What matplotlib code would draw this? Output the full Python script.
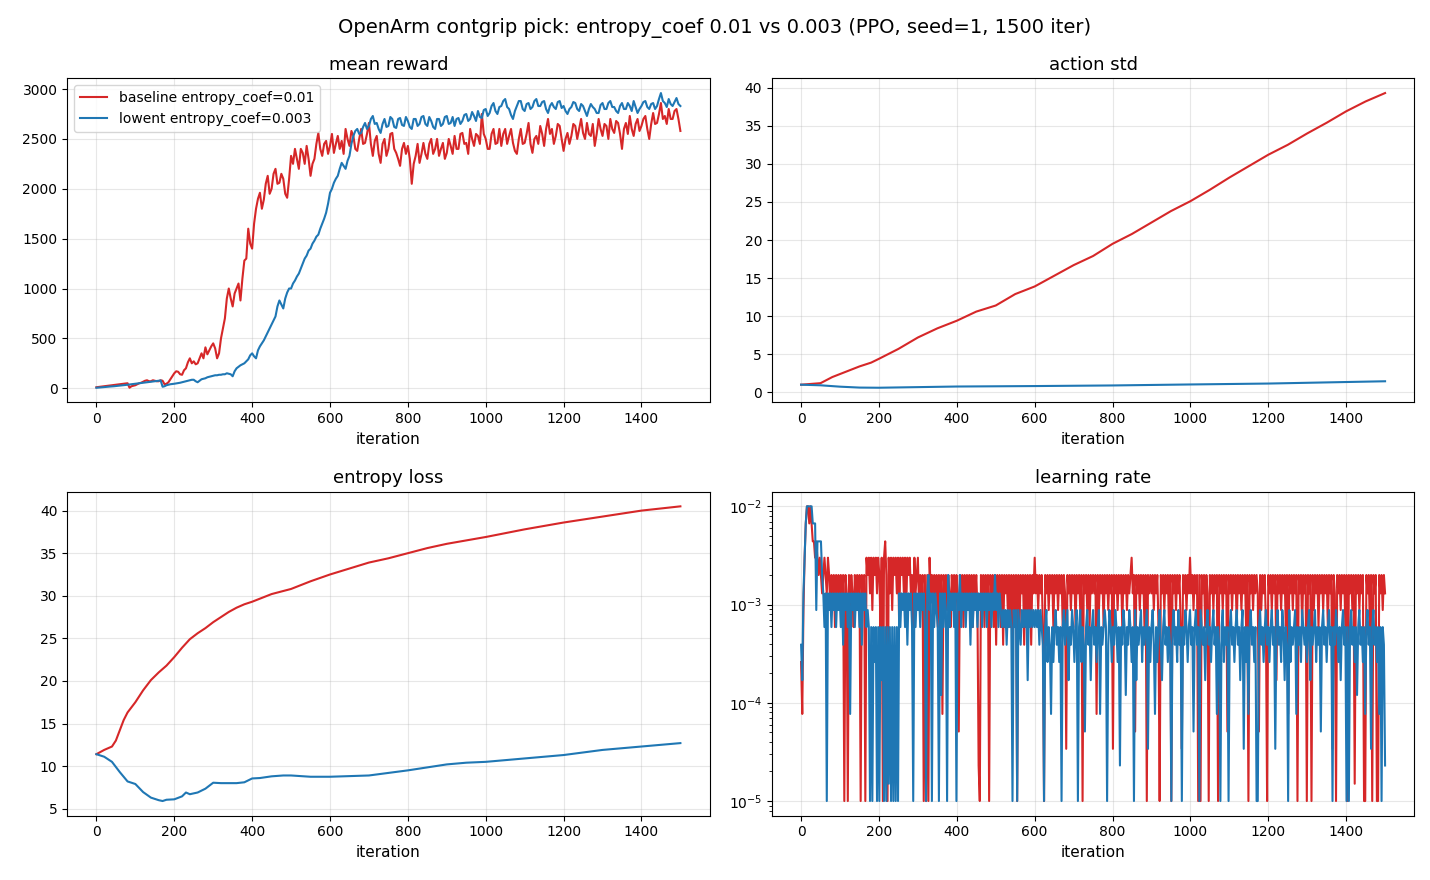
import numpy as np
import matplotlib
matplotlib.use("Agg")
import matplotlib.pyplot as plt

# colours
colors = {
    'baseline': '#d62728',
    'lowent': '#1f77b4',
}
labels = {
    'baseline': 'baseline entropy_coef=0.01',
    'lowent': 'lowent entropy_coef=0.003',
}

# --- mean reward, read every 5 iterations ---
reward_step = 5
reward_baseline = [
    10, 12, 15, 18, 20, 22, 25, 28, 30, 32, 35, 38, 40, 42, 45, 48, 50, 5, 20, 25,
    30, 40, 50, 55, 65, 75, 80, 70, 70, 80, 75, 70, 70, 80, 75, 40, 45, 60, 90, 120,
    150, 170, 165, 140, 135, 180, 200, 260, 300, 250, 270, 240, 250, 300, 350, 300, 410, 340, 380, 420,
    450, 400, 300, 350, 500, 600, 700, 900, 1000, 900, 820, 950, 1000, 1050, 880, 1100, 1280, 1300, 1600, 1450,
    1400, 1650, 1800, 1900, 1960, 1800, 1890, 2050, 2130, 1950, 2000, 2150, 2200, 2050, 2060, 2150, 2100, 1950, 1910, 2100,
    2330, 2250, 2400, 2300, 2200, 2400, 2360, 2250, 2430, 2300, 2130, 2250, 2300, 2450, 2560, 2400, 2330, 2450, 2480, 2350,
    2430, 2550, 2360, 2450, 2530, 2400, 2480, 2350, 2600, 2500, 2430, 2580, 2530, 2400, 2380, 2500, 2600, 2450, 2460, 2550,
    2660, 2450, 2330, 2480, 2530, 2350, 2260, 2450, 2500, 2330, 2400, 2550, 2560, 2400, 2360, 2300, 2230, 2400, 2460, 2350,
    2430, 2300, 2050, 2250, 2330, 2450, 2260, 2350, 2460, 2350, 2300, 2450, 2500, 2350, 2400, 2500, 2330, 2400, 2460, 2300,
    2360, 2500, 2430, 2350, 2530, 2400, 2400, 2550, 2560, 2450, 2460, 2350, 2600, 2500, 2430, 2550, 2530, 2450, 2750, 2550,
    2500, 2400, 2400, 2550, 2600, 2450, 2460, 2600, 2430, 2550, 2600, 2450, 2530, 2600, 2460, 2380, 2350, 2500, 2600, 2450,
    2460, 2550, 2660, 2450, 2360, 2500, 2530, 2450, 2630, 2550, 2430, 2600, 2700, 2550, 2600, 2450, 2530, 2650, 2630, 2500,
    2380, 2500, 2560, 2450, 2530, 2650, 2630, 2500, 2600, 2700, 2560, 2500, 2660, 2550, 2530, 2650, 2430, 2550, 2700, 2600,
    2530, 2650, 2630, 2500, 2700, 2600, 2560, 2680, 2660, 2550, 2400, 2600, 2660, 2550, 2730, 2600, 2530, 2650, 2700, 2580,
    2630, 2700, 2730, 2600, 2500, 2650, 2760, 2650, 2660, 2750, 2860, 2700, 2730, 2650, 2800, 2700, 2700, 2780, 2800, 2700,
    2580,
]
reward_lowent = [
    5, 6, 8, 10, 12, 14, 15, 17, 18, 20, 22, 24, 26, 28, 30, 32, 35, 38, 40, 42,
    45, 48, 50, 52, 55, 58, 60, 62, 65, 68, 70, 72, 75, 78, 15, 20, 30, 35, 40, 42,
    45, 48, 50, 55, 60, 65, 70, 75, 80, 85, 85, 70, 60, 75, 90, 95, 100, 110, 115, 120,
    125, 130, 130, 135, 135, 140, 140, 150, 145, 140, 120, 170, 200, 215, 230, 240, 250, 270, 290, 330,
    350, 320, 300, 380, 420, 450, 480, 520, 560, 600, 640, 680, 720, 820, 880, 840, 800, 900, 960, 1000,
    1000, 1050, 1080, 1120, 1150, 1200, 1250, 1300, 1330, 1380, 1400, 1450, 1480, 1520, 1540, 1600, 1650, 1700, 1760, 1850,
    1960, 2000, 2060, 2100, 2130, 2200, 2260, 2230, 2200, 2280, 2330, 2450, 2530, 2580, 2600, 2550, 2560, 2620, 2660, 2600,
    2630, 2700, 2730, 2650, 2660, 2600, 2560, 2650, 2700, 2620, 2630, 2720, 2700, 2620, 2610, 2700, 2710, 2640, 2630, 2720,
    2680, 2620, 2600, 2700, 2700, 2630, 2650, 2720, 2730, 2650, 2630, 2720, 2680, 2620, 2600, 2700, 2700, 2630, 2650, 2720,
    2730, 2650, 2660, 2720, 2630, 2700, 2710, 2650, 2680, 2740, 2750, 2680, 2700, 2770, 2730, 2680, 2780, 2720, 2710, 2790,
    2800, 2730, 2760, 2830, 2860, 2780, 2750, 2820, 2830, 2880, 2900, 2820, 2800, 2740, 2700, 2780, 2830, 2880, 2880, 2800,
    2780, 2850, 2860, 2800, 2820, 2880, 2900, 2830, 2830, 2870, 2880, 2800, 2760, 2830, 2860, 2820, 2800, 2870, 2880, 2810,
    2830, 2780, 2750, 2800, 2820, 2870, 2860, 2800, 2780, 2850, 2830, 2780, 2730, 2800, 2850, 2820, 2800, 2760, 2760, 2840,
    2860, 2800, 2800, 2860, 2880, 2820, 2820, 2780, 2760, 2830, 2860, 2800, 2800, 2860, 2830, 2780, 2880, 2820, 2760, 2800,
    2830, 2870, 2880, 2820, 2800, 2850, 2860, 2800, 2830, 2900, 2960, 2880, 2860, 2820, 2900, 2850, 2830, 2870, 2910, 2850,
    2830,
]

# --- action std ---
std_iters_baseline = [0, 50, 80, 120, 150, 180, 200, 250, 300, 350, 400, 450, 500, 550, 600, 650,
                      700, 750, 800, 850, 900, 950, 1000, 1050, 1100, 1150, 1200, 1250, 1300,
                      1350, 1400, 1450, 1500]
std_baseline = [1.0, 1.2, 2.0, 2.8, 3.4, 3.9, 4.4, 5.7, 7.2, 8.4, 9.4, 10.6, 11.4, 12.9, 13.9, 15.3,
                16.7, 17.9, 19.5, 20.8, 22.3, 23.8, 25.1, 26.6, 28.2, 29.7, 31.2, 32.5, 34.0,
                35.4, 36.9, 38.2, 39.3]
std_iters_lowent = [0, 50, 100, 150, 200, 300, 400, 600, 800, 1000, 1200, 1400, 1500]
std_lowent = [1.0, 0.92, 0.74, 0.62, 0.6, 0.68, 0.76, 0.82, 0.9, 1.03, 1.15, 1.35, 1.45]

# --- entropy loss ---
ent_iters_baseline = [0, 20, 40, 50, 70, 80, 100, 120, 140, 160, 180, 200, 220, 240, 260, 280, 300,
                      320, 340, 360, 380, 400, 450, 500, 550, 600, 650, 700, 750, 800, 850,
                      900, 950, 1000, 1100, 1200, 1300, 1400, 1500]
ent_baseline = [11.4, 11.9, 12.3, 13.0, 15.4, 16.3, 17.5, 18.9, 20.1, 21.0, 21.8, 22.8, 23.9, 24.9,
                25.6, 26.2, 26.9, 27.5, 28.1, 28.6, 29.0, 29.3, 30.2, 30.8, 31.7, 32.5, 33.2,
                33.9, 34.4, 35.0, 35.6, 36.1, 36.5, 36.9, 37.8, 38.6, 39.3, 40.0, 40.5]
ent_iters_lowent = [0, 20, 40, 60, 80, 100, 120, 140, 160, 170, 180, 200, 220, 230, 240, 260, 280,
                    300, 320, 340, 360, 380, 400, 420, 450, 480, 500, 550, 600, 700, 750, 800,
                    850, 900, 950, 1000, 1100, 1200, 1300, 1400, 1500]
ent_lowent = [11.4, 11.1, 10.5, 9.3, 8.2, 7.9, 6.95, 6.3, 6.0, 5.9, 6.05, 6.1, 6.45, 6.9, 6.7, 6.9,
              7.35, 8.05, 8.0, 8.0, 8.0, 8.1, 8.55, 8.6, 8.8, 8.9, 8.9, 8.75, 8.75, 8.9, 9.2, 9.5,
              9.85, 10.2, 10.4, 10.5, 10.9, 11.3, 11.9, 12.3, 12.7]

# --- learning rate: adaptive schedule levels, one code letter every 3 iterations ---
lr_step = 3
lr_levels = {
    'a': 1.0e-2, 'b': 6.7e-3, 'c': 4.4e-3, 'd': 3.0e-3, 'e': 2.0e-3, 'f': 1.3e-3,
    'g': 8.8e-4, 'h': 5.9e-4, 'i': 3.9e-4, 'j': 2.6e-4, 'k': 1.7e-4, 'l': 1.2e-4,
    'm': 7.7e-5, 'n': 5.1e-5, 'o': 3.4e-5, 'p': 2.3e-5, 'q': 1.5e-5, 'r': 1.0e-5,
}
lr_codes_baseline = [
    "jmgdbaabab", "ccdcdedefe", "defdegefeh", "efegeferef", "regefhefeg",
    "ereferdedf", "dgdedfdehd", "rdcerdfdgd", "edfdhdedfd", "gdedfehdfe",
    "dgefererer", "dfegefehef", "emefegefhe", "fegefnefeh", "efegefehef",
    "egprefehef", "erefeheieg", "eheiefegeh", "eiegerehef", "eiehegeief",
    "dfegefehre", "fegefehefe", "gefehefoef", "egefehefeg", "erefegehef",
    "efemegefeh", "efegefeoef", "egefehefeg", "efedfenefe", "gefeherefe",
    "fegefehref", "egefeheref", "egefehoefe", "gefdfegefe", "rerefehefr",
    "efegeferef", "egefenefeg", "efehefegef", "eherefegef", "efnegefehr",
    "efegefekef", "egefehemef", "egeferefeh", "eferefereg", "efehefegef",
    "ehefeoefre", "fegefehere", "fegeqefege", "ferrefeher", "eferrefege",
    "f",
]
lr_codes_lowent = [
    "ikfdbaaaaa", "bbbgccccef", "hfrfgfhfgf", "hfgfhfifgf", "hfmfgfhfgf",
    "hfifgfhghr", "hrhjhrhrhk", "hrhrhqhrhr", "hrhrfhfgfh", "fifgfhrfhf",
    "gfhfgfhrfe", "gfrfhfghrf", "lfhfgrehfg", "fhfrfgehfg", "fhfgfifhfg",
    "fhfgfhfgfh", "fgfhfgegfh", "fghghgighg", "hrghgrghig", "hghgkghghg",
    "hghgighirh", "gjhimhjhgi", "hjhrhgihgk", "highjhgrhg", "jhinhgihkh",
    "gihjhgmhih", "ghrighjhig", "hjhphighlh", "ighjhrgkhi", "hgjhihgohj",
    "hgimhjhgik", "hgihjhirhg", "ihjgihrhig", "hjhgihnhgi", "hrghihkhgi",
    "hjhgihmhir", "hgjhihrhgi", "hjhgihkhgo", "hjhmhgihjh", "rrhgihjhgi",
    "hjhgihohgi", "hjghkhirgj", "hihgmhihjg", "hihjhgkhih", "gjhihnhgih",
    "jhgihrhigh", "jhkhgihrhr", "hgihjhlhgi", "hjhmhgihoh", "gihjhmhrhi",
    "p",
]

fig, axes = plt.subplots(2, 2, figsize=(14.3, 8.8), dpi=100)
fig.suptitle('OpenArm contgrip pick: entropy_coef 0.01 vs 0.003 (PPO, seed=1, 1500 iter)', fontsize=14)

# mean reward
ax = axes[0, 0]
ax.plot(np.arange(len(reward_baseline)) * reward_step, reward_baseline,
        color=colors['baseline'], label=labels['baseline'])
ax.plot(np.arange(len(reward_lowent)) * reward_step, reward_lowent,
        color=colors['lowent'], label=labels['lowent'])
ax.set_title('mean reward', fontsize=13)
ax.set_xlabel('iteration', fontsize=11)
ax.legend(loc='upper left', fontsize=10)

# action std
ax = axes[0, 1]
ax.plot(std_iters_baseline, std_baseline, color=colors['baseline'])
ax.plot(std_iters_lowent, std_lowent, color=colors['lowent'])
ax.set_title('action std', fontsize=13)
ax.set_xlabel('iteration', fontsize=11)

# entropy loss
ax = axes[1, 0]
ax.plot(ent_iters_baseline, ent_baseline, color=colors['baseline'])
ax.plot(ent_iters_lowent, ent_lowent, color=colors['lowent'])
ax.set_title('entropy loss', fontsize=13)
ax.set_xlabel('iteration', fontsize=11)

# learning rate
ax = axes[1, 1]
for key, codes in (('baseline', lr_codes_baseline), ('lowent', lr_codes_lowent)):
    seq = ''.join(codes)
    vals = [lr_levels[c] for c in seq]
    its = np.arange(len(vals)) * lr_step
    ax.plot(its, vals, color=colors[key])
ax.set_yscale('log')
ax.set_title('learning rate', fontsize=13)
ax.set_xlabel('iteration', fontsize=11)

for ax in axes.flat:
    ax.grid(alpha=0.3)
    ax.tick_params(labelsize=10)

plt.subplots_adjust(left=0.047, right=0.989, top=0.911, bottom=0.073, wspace=0.097, hspace=0.275)
plt.savefig('out.png')
plt.close()
